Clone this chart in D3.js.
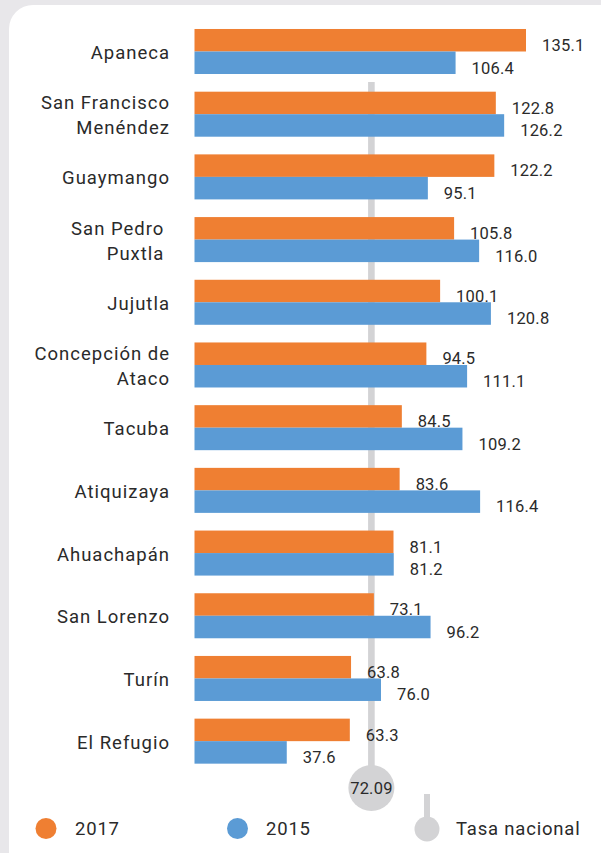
<!DOCTYPE html>
<html lang="es">
<head>
<meta charset="UTF-8">
<title>Tasa por municipio</title>
<script src="https://cdn.jsdelivr.net/npm/d3@7"></script>
<style>
  body { margin: 0; background: #e8e7ea; }
  svg { display: block; font-family: Roboto, "DejaVu Sans", sans-serif; }
  .cat { font-size: 18.5px; fill: #2a2a2a; white-space: pre; letter-spacing: 1px; }
  .val { font-size: 16.5px; fill: #2a2a2a; letter-spacing: 0.2px; }
  .leg { font-size: 18.5px; fill: #2a2a2a; letter-spacing: 0.8px; }
</style>
</head>
<body>
<svg id="chart" width="601" height="853"></svg>
<script>
// data
const municipios = [
  ["Apaneca"],
  ["San Francisco", "Menéndez"],
  ["Guaymango"],
  ["San Pedro ", "Puxtla "],
  ["Jujutla"],
  ["Concepción de", "Ataco"],
  ["Tacuba"],
  ["Atiquizaya"],
  ["Ahuachapán"],
  ["San Lorenzo"],
  ["Turín"],
  ["El Refugio"]
];
const v2017 = [135.1, 122.8, 122.2, 105.8, 100.1, 94.5, 84.5, 83.6, 81.1, 73.1, 63.8, 63.3];
const v2015 = [106.4, 126.2, 95.1, 116.0, 120.8, 111.1, 109.2, 116.4, 81.2, 96.2, 76.0, 37.6];
const tasaNacional = 72.09;

const orange = "#ef7f32", blue = "#5b9bd5", grey = "#d3d3d5";

let svg = d3.select("#chart");

// white panel
svg.append("rect")
  .attr("x", 9).attr("y", 5)
  .attr("width", 620).attr("height", 880)
  .attr("rx", 24)
  .attr("fill", "#fff");

let rows = municipios.map((m, i) => ({ name: m, a: v2017[i], b: v2015[i], i: i }));

let y = d3.scaleBand()
  .domain(d3.range(rows.length))
  .range([20.15, 772.5])
  .paddingInner(0.282)
  .paddingOuter(0.141);

let x = d3.scaleLinear()
  .domain([0, 135.1])
  .range([194.5, 526]);

let half = y.bandwidth() / 2;

// national rate line (behind the bars)
let lx = x(tasaNacional);
svg.append("rect")
  .attr("x", lx - 3.3).attr("y", 82)
  .attr("width", 6.6).attr("height", 788 - 82)
  .attr("fill", grey);

let g = svg.selectAll(".row")
  .data(rows)
  .enter()
  .append("g")
  .attr("class", "row");

g.append("rect")
  .attr("x", x(0))
  .attr("y", d => y(d.i))
  .attr("width", d => x(d.a) - x(0))
  .attr("height", half)
  .attr("fill", orange);

g.append("rect")
  .attr("x", x(0))
  .attr("y", d => y(d.i) + half)
  .attr("width", d => x(d.b) - x(0))
  .attr("height", half)
  .attr("fill", blue);

g.append("text")
  .attr("class", "val")
  .attr("x", d => x(d.a) + 16)
  .attr("y", d => y(d.i) + half - 0.5)
  .text(d => d.a.toFixed(1));

g.append("text")
  .attr("class", "val")
  .attr("x", d => x(d.b) + 16)
  .attr("y", d => y(d.i) + 2 * half - 0.5)
  .text(d => d.b.toFixed(1));

// category labels, one or two lines
g.each(function(d) {
  let c = y(d.i) + half;
  let lines = d.name;
  let t = d3.select(this).append("text")
    .attr("class", "cat")
    .attr("text-anchor", "end");
  lines.forEach((s, k) => {
    let off = lines.length === 1 ? 0 : (k === 0 ? -12.5 : 12.5);
    t.append("tspan")
      .attr("x", 170)
      .attr("y", c + off + 7.5)
      .text(s);
  });
});

// bubble with national value
svg.append("circle")
  .attr("cx", lx).attr("cy", 788).attr("r", 23)
  .attr("fill", grey);
svg.append("text")
  .attr("class", "val")
  .attr("x", lx).attr("y", 794)
  .attr("text-anchor", "middle")
  .text(tasaNacional.toFixed(2));

// legend
let legend = [
  { label: "2017", color: orange, cx: 46, tx: 75 },
  { label: "2015", color: blue, cx: 237.5, tx: 266 }
];
legend.forEach(l => {
  svg.append("circle").attr("cx", l.cx).attr("cy", 828.5).attr("r", 10.5).attr("fill", l.color);
  svg.append("text").attr("class", "leg").attr("x", l.tx).attr("y", 835).text(l.label);
});
svg.append("rect").attr("x", 424).attr("y", 794).attr("width", 6).attr("height", 30).attr("fill", grey);
svg.append("circle").attr("cx", 427).attr("cy", 829).attr("r", 12.5).attr("fill", grey);
svg.append("text").attr("class", "leg").attr("x", 456).attr("y", 835).text("Tasa nacional");
</script>
</body>
</html>
